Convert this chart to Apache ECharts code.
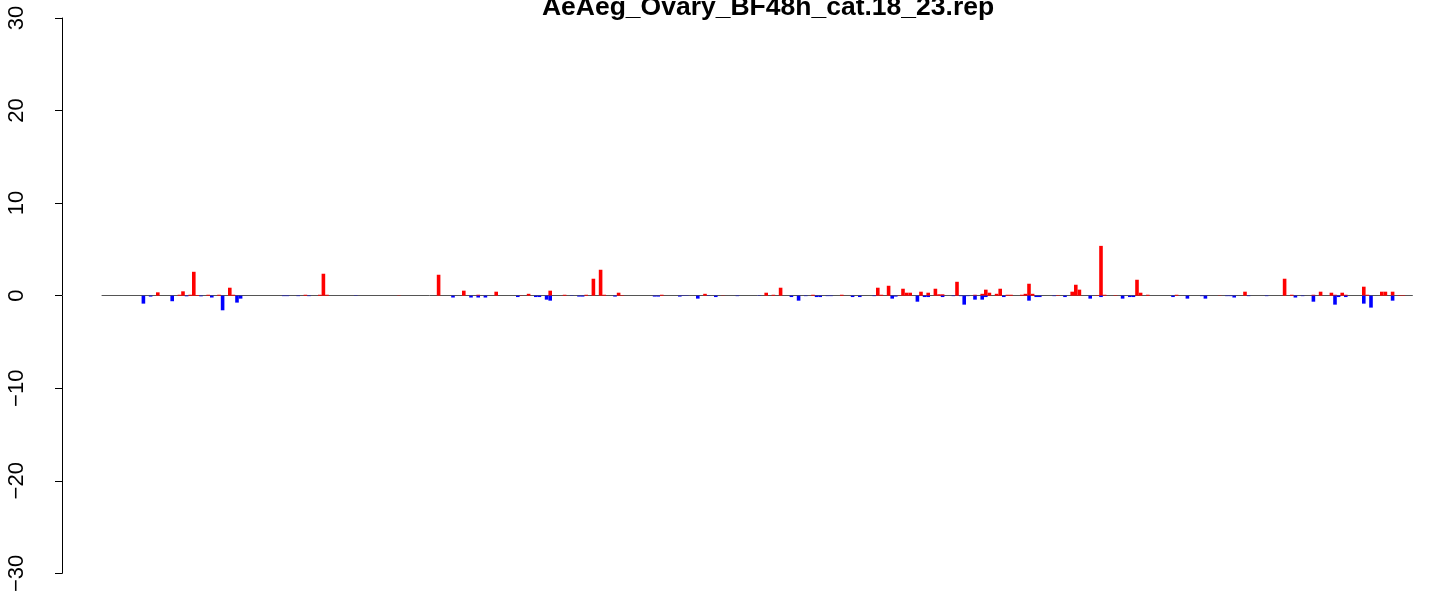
<!DOCTYPE html>
<html>
<head>
<meta charset="utf-8">
<title>AeAeg_Ovary_BF48h_cat.18_23.rep</title>
<script src="https://cdn.jsdelivr.net/npm/echarts@6/dist/echarts.min.js"></script>
<style>
  html, body { margin: 0; padding: 0; background: #fff; }
  #chart { width: 1429px; height: 595px; }
</style>
</head>
<body>
<div id="chart"></div>
<script>
// bar slots along the x axis (one per gene group), first visible bar sits at slot 11
const slotCount = 364;
const slotOffset = 11;

// up-regulated (red) bars: slot index and value
const upIdx = [4, 10, 11, 13, 14, 15, 18, 21, 24, 25, 45, 49, 50, 51, 71, 82, 89, 93, 98, 105,
  107, 113, 117, 123, 125, 127, 128, 132, 133, 144, 156, 161, 173, 175, 177, 186, 194, 204, 205, 207,
  210, 211, 212, 213, 216, 218, 220, 221, 222, 226, 231, 233, 234, 235, 237, 238, 240, 241, 244, 245,
  246, 247, 254, 258, 259, 260, 265, 266, 267, 270, 276, 277, 279, 287, 299, 306, 317, 319, 325, 327,
  330, 331, 333, 334, 339, 340, 344, 345, 347, 349, 350];
const upVal = [0.36, 0.1, 0.47, 0.1, 2.58, 0.07, 0.1, 0.1, 0.86, 0.1, 0.1, 0.1, 2.37, 0.1, 0.03, 2.26, 0.54, 0.1, 0.43, 0.03,
  0.2, 0.54, 0.1, 0.1, 1.83, 2.8, 0.1, 0.32, 0.05, 0.1, 0.2, 0.03, 0.32, 0.1, 0.86, 0.1, 0.1, 0.86, 0.1, 1.07,
  0.03, 0.75, 0.32, 0.32, 0.43, 0.32, 0.75, 0.15, 0.15, 1.5, 0.1, 0.2, 0.65, 0.32, 0.2, 0.75, 0.1, 0.1, 0.1, 0.2,
  1.29, 0.2, 0.05, 0.43, 1.18, 0.65, 0.05, 5.38, 0.1, 0.05, 1.72, 0.32, 0.1, 0.1, 0.03, 0.43, 1.83, 0.1, 0.1, 0.43,
  0.32, 0.1, 0.32, 0.1, 0.97, 0.1, 0.43, 0.43, 0.43, 0.05, 0.05];

// down-regulated (blue) bars: slot index and value
const downIdx = [0, 2, 8, 12, 16, 19, 22, 26, 27, 39, 40, 43, 46, 59, 86, 91, 93, 95, 104, 109,
  110, 112, 113, 119, 121, 122, 131, 142, 143, 149, 150, 151, 154, 157, 159, 165, 171, 180, 182, 184,
  187, 188, 190, 191, 197, 199, 203, 208, 209, 215, 217, 218, 222, 225, 227, 228, 229, 231, 233, 234,
  239, 246, 248, 249, 253, 256, 263, 266, 272, 274, 275, 286, 290, 294, 295, 301, 302, 303, 307, 312,
  320, 322, 325, 331, 332, 334, 339, 341, 347];
const downVal = [-0.86, -0.1, -0.6, -0.07, -0.07, -0.2, -1.58, -0.75, -0.32, -0.05, -0.05, -0.05, -0.05, -0.03, -0.2, -0.2, -0.2, -0.2, -0.15, -0.15,
  -0.15, -0.43, -0.54, -0.03, -0.1, -0.1, -0.1, -0.1, -0.1, -0.1, -0.03, -0.03, -0.32, -0.03, -0.15, -0.05, -0.03, -0.15, -0.54, -0.05,
  -0.15, -0.15, -0.05, -0.05, -0.15, -0.15, -0.05, -0.32, -0.1, -0.65, -0.15, -0.15, -0.15, -0.05, -0.05, -0.97, -0.05, -0.43, -0.43, -0.15,
  -0.15, -0.54, -0.15, -0.15, -0.05, -0.15, -0.32, -0.15, -0.32, -0.15, -0.15, -0.15, -0.32, -0.05, -0.32, -0.05, -0.05, -0.2, -0.05, -0.05,
  -0.2, -0.05, -0.65, -0.97, -0.15, -0.15, -0.86, -1.29, -0.54];

const yTicks = [-30, -20, -10, 0, 10, 20, 30];
const chartTitle = 'AeAeg_Ovary_BF48h_cat.18_23.rep';

const categories = [];
for (let i = 0; i < slotCount; i++) categories.push(String(i + 1));

const toSeries = (idx, vals) => {
  const arr = new Array(slotCount).fill(null);
  idx.forEach((k, i) => { arr[k + slotOffset] = vals[i]; });
  return arr;
};

const chart = echarts.init(document.getElementById('chart'));

const fontFam = '"Liberation Sans", Arial, Helvetica, sans-serif';

chart.setOption({
  animation: false,
  backgroundColor: '#ffffff',
  grid: {
    left: 102,
    width: slotCount * 3.6,
    top: 18,
    bottom: 19
  },
  graphic: [
    {
      type: 'text',
      x: 768,
      y: 21,
      silent: true,
      style: {
        text: chartTitle,
        font: 'bold 26.5px ' + fontFam,
        fill: '#000',
        textAlign: 'center',
        textVerticalAlign: 'bottom'
      }
    }
  ],
  xAxis: {
    type: 'category',
    data: categories,
    boundaryGap: true,
    axisLine: { show: true, onZero: true, lineStyle: { color: '#555', width: 1 } },
    axisTick: { show: false },
    axisLabel: { show: false },
    splitLine: { show: false }
  },
  yAxis: {
    type: 'value',
    min: yTicks[0],
    max: yTicks[yTicks.length - 1],
    interval: 10,
    position: 'left',
    offset: 40,
    axisLine: { show: true, lineStyle: { color: '#000', width: 1 } },
    axisTick: { show: true, length: 7, lineStyle: { color: '#000', width: 1 } },
    axisLabel: {
      rotate: 90,
      margin: 34,
      fontSize: 22,
      fontFamily: fontFam,
      color: '#000',
      formatter: (v) => (v < 0 ? '\u2212' + Math.abs(v) : String(v))
    },
    splitLine: { show: false }
  },
  series: [
    {
      name: 'up',
      type: 'bar',
      stack: 'total',
      barWidth: '100%',
      data: toSeries(upIdx, upVal),
      itemStyle: { color: '#ff0000' },
      silent: true
    },
    {
      name: 'down',
      type: 'bar',
      stack: 'total',
      barWidth: '100%',
      data: toSeries(downIdx, downVal),
      itemStyle: { color: '#0000ff' },
      silent: true
    }
  ]
});
</script>
</body>
</html>
